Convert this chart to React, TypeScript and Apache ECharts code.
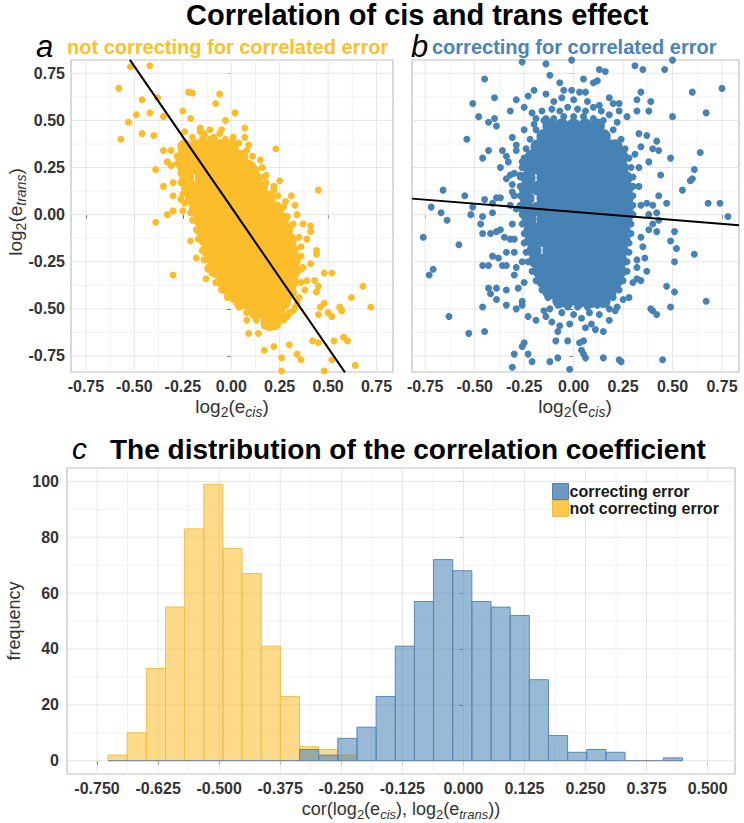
import React, { useEffect, useRef } from 'react';
import * as echarts from 'echarts';

const FONT = '"Liberation Sans", Arial, Helvetica, sans-serif';
const YELLOW = '#FBBD2A';
const BLUE = '#4682B4';
const INK = '#333333';

// ---------- Panel a: not correcting (dense core drawn with larger markers) ----------
const coreA: number[][] = [
  [-0.24, 0.36], [-0.18, 0.36], [-0.12, 0.36], [-0.06, 0.36], [0.0, 0.36],
  [-0.25, 0.305], [-0.21, 0.305], [-0.15, 0.305], [-0.09, 0.305], [-0.03, 0.305], [0.03, 0.305], [0.05, 0.305],
  [-0.24, 0.25], [-0.18, 0.25], [-0.12, 0.25], [-0.06, 0.25], [0.0, 0.25], [0.06, 0.25], [0.09, 0.25],
  [-0.23, 0.195], [-0.15, 0.195], [-0.09, 0.195], [-0.03, 0.195], [0.03, 0.195], [0.09, 0.195], [0.12, 0.195],
  [-0.22, 0.14], [-0.18, 0.14], [-0.12, 0.14], [-0.06, 0.14], [0.0, 0.14], [0.06, 0.14], [0.12, 0.14], [0.15, 0.14],
  [-0.2, 0.085], [-0.15, 0.085], [-0.09, 0.085], [-0.03, 0.085], [0.03, 0.085], [0.09, 0.085], [0.15, 0.085], [0.19, 0.085],
  [-0.18, 0.03], [-0.12, 0.03], [-0.06, 0.03], [0.0, 0.03], [0.06, 0.03], [0.12, 0.03], [0.18, 0.03], [0.23, 0.03],
  [-0.16, -0.025], [-0.09, -0.025], [-0.03, -0.025], [0.03, -0.025], [0.09, -0.025], [0.15, -0.025], [0.21, -0.025], [0.26, -0.025],
  [-0.15, -0.08], [-0.12, -0.08], [-0.06, -0.08], [0.0, -0.08], [0.06, -0.08], [0.12, -0.08], [0.18, -0.08], [0.24, -0.08], [0.28, -0.08],
  [-0.13, -0.135], [-0.09, -0.135], [-0.03, -0.135], [0.03, -0.135], [0.09, -0.135], [0.15, -0.135], [0.21, -0.135], [0.27, -0.135], [0.3, -0.135],
  [-0.12, -0.19], [-0.06, -0.19], [0.0, -0.19], [0.06, -0.19], [0.12, -0.19], [0.18, -0.19], [0.24, -0.19], [0.31, -0.19],
  [-0.09, -0.245], [-0.03, -0.245], [0.03, -0.245], [0.09, -0.245], [0.15, -0.245], [0.21, -0.245], [0.27, -0.245], [0.32, -0.245],
  [-0.07, -0.3], [0.0, -0.3], [0.06, -0.3], [0.12, -0.3], [0.18, -0.3], [0.24, -0.3], [0.3, -0.3], [0.32, -0.3],
  [-0.04, -0.355], [0.03, -0.355], [0.09, -0.355], [0.15, -0.355], [0.21, -0.355], [0.27, -0.355], [0.31, -0.355],
  [0.0, -0.41], [0.06, -0.41], [0.12, -0.41], [0.18, -0.41], [0.24, -0.41], [0.3, -0.41],
  [0.05, -0.465], [0.09, -0.465], [0.15, -0.465], [0.21, -0.465], [0.27, -0.465],
  [0.13, -0.52], [0.18, -0.52], [0.24, -0.52],
  [0.19, -0.575], [0.22, -0.575],
];

const pointsA: number[][] = [
  [-0.52, 0.785], [-0.42, 0.79], [-0.58, 0.67], [-0.46, 0.61], [-0.38, 0.62], [-0.49, 0.53], [-0.53, 0.49],
  [-0.57, 0.4], [-0.46, 0.43], [-0.42, 0.54], [-0.4, 0.42], [-0.35, 0.52], [-0.25, 0.55], [-0.22, 0.65],
  [-0.2, 0.645], [-0.21, 0.51], [-0.06, 0.64], [-0.08, 0.59], [-0.03, 0.5], [0.02, 0.54], [0.07, 0.46],
  [0.07, 0.41], [0.09, 0.37], [0.23, 0.35], [-0.16, 0.46], [-0.14, 0.43], [-0.06, 0.43], [0.02, 0.37],
  [-0.39, 0.24], [-0.35, 0.15], [-0.3, 0.17], [-0.39, -0.04], [-0.33, 0.0], [-0.3, 0.02], [-0.25, 0.02],
  [-0.3, 0.1], [-0.3, -0.32], [-0.18, -0.23], [-0.13, -0.34], [-0.05, -0.4], [-0.02, -0.36], [0.08, -0.56],
  [0.09, -0.63], [0.14, -0.63], [0.17, -0.72], [0.22, -0.7], [0.26, -0.76], [0.26, -0.83], [0.3, -0.69],
  [0.34, -0.74], [0.36, -0.77], [0.42, -0.67], [0.45, -0.68], [0.48, -0.83], [0.52, -0.77], [0.53, -0.67],
  [0.58, -0.65], [0.6, -0.67], [0.64, -0.8], [0.57, -0.51], [0.56, -0.49], [0.62, -0.44], [0.68, -0.38],
  [0.72, -0.49], [0.48, -0.31], [0.52, -0.31], [0.43, -0.35], [0.45, -0.38], [0.44, -0.41], [0.48, -0.47],
  [0.46, -0.49], [0.45, -0.53], [0.5, -0.52], [0.52, -0.54], [0.45, 0.13], [0.37, -0.05], [0.41, -0.06],
  [0.41, -0.09], [0.44, -0.19], [0.44, -0.21], [0.39, -0.13], [0.31, 0.1], [0.33, 0.05], [0.28, 0.07],
  [0.34, 0.0], [0.25, 0.18], [0.22, 0.15], [0.2, 0.11], [0.18, 0.21], [0.16, 0.25], [0.11, 0.26], [0.15, 0.29],
  [-0.35, 0.34], [-0.31, 0.26], [-0.33, 0.28], [-0.28, 0.31], [-0.31, 0.34], [-0.24, 0.44], [-0.15, 0.4],
  [-0.26, 0.08], [-0.21, -0.14], [-0.12, -0.29],
  [-0.02, 0.38], [-0.08, 0.39], [-0.11, 0.4], [-0.16, 0.37], [-0.2, 0.36], [-0.24, 0.34], [-0.26, 0.31],
  [-0.28, 0.27], [-0.26, 0.22], [-0.26, 0.17], [-0.25, 0.11], [-0.24, 0.06], [-0.21, 0.01], [-0.2, -0.03],
  [-0.18, -0.08], [-0.17, -0.13], [-0.15, -0.19], [-0.14, -0.24], [-0.12, -0.28], [-0.1, -0.31], [-0.08, -0.36],
  [-0.04, -0.4], [-0.02, -0.44], [0.01, -0.45], [0.04, -0.49], [0.08, -0.52], [0.13, -0.56], [0.17, -0.59],
  [0.2, -0.6], [0.23, -0.59], [0.27, -0.56], [0.3, -0.52], [0.33, -0.49], [0.35, -0.44], [0.36, -0.36],
  [0.36, -0.29], [0.36, -0.22], [0.36, -0.17], [0.35, -0.12], [0.32, -0.05], [0.29, -0.01], [0.27, 0.04],
  [0.24, 0.1], [0.22, 0.13], [0.18, 0.17], [0.17, 0.2], [0.13, 0.24], [0.11, 0.31], [0.08, 0.34], [0.04, 0.38],
  [0.01, 0.41], [-0.01, 0.36], [0.04, -0.44], [0.06, -0.47], [0.13, -0.51], [0.18, -0.54], [0.23, -0.58],
  [0.29, -0.54], [0.32, -0.51], [0.34, -0.47], [0.38, -0.4], [0.39, -0.35], [0.37, -0.28], [0.41, -0.26],
  [-0.09, -0.29], [-0.2, 0.41], [-0.14, 0.42], [-0.09, 0.41], [-0.03, 0.4], [-0.16, 0.44], [-0.11, 0.45], [-0.05, 0.45],
];

const fitA: number[][] = [[-0.523, 0.821], [0.587, -0.837]];

// ---------- Panel b: correcting ----------
const coreB: number[][] = [
  [-0.12, 0.47], [-0.06, 0.47], [0.0, 0.47], [0.06, 0.47], [0.12, 0.47],
  [-0.15, 0.415], [-0.09, 0.415], [-0.03, 0.415], [0.03, 0.415], [0.09, 0.415], [0.15, 0.415],
  [-0.18, 0.36], [-0.12, 0.36], [-0.06, 0.36], [0.0, 0.36], [0.06, 0.36], [0.12, 0.36], [0.18, 0.36], [0.21, 0.36],
  [-0.21, 0.305], [-0.15, 0.305], [-0.09, 0.305], [-0.03, 0.305], [0.03, 0.305], [0.09, 0.305], [0.15, 0.305], [0.21, 0.305], [0.24, 0.305],
  [-0.22, 0.25], [-0.18, 0.25], [-0.12, 0.25], [-0.06, 0.25], [0.0, 0.25], [0.06, 0.25], [0.12, 0.25], [0.18, 0.25], [0.24, 0.25],
  [-0.23, 0.195], [-0.15, 0.195], [-0.09, 0.195], [-0.03, 0.195], [0.03, 0.195], [0.09, 0.195], [0.15, 0.195], [0.21, 0.195], [0.26, 0.195],
  [-0.24, 0.14], [-0.18, 0.14], [-0.12, 0.14], [-0.06, 0.14], [0.0, 0.14], [0.06, 0.14], [0.12, 0.14], [0.18, 0.14], [0.24, 0.14], [0.265, 0.14],
  [-0.235, 0.085], [-0.15, 0.085], [-0.09, 0.085], [-0.03, 0.085], [0.03, 0.085], [0.09, 0.085], [0.15, 0.085], [0.21, 0.085], [0.265, 0.085],
  [-0.24, 0.03], [-0.18, 0.03], [-0.12, 0.03], [-0.06, 0.03], [0.0, 0.03], [0.06, 0.03], [0.12, 0.03], [0.18, 0.03], [0.24, 0.03], [0.265, 0.03],
  [-0.225, -0.025], [-0.15, -0.025], [-0.09, -0.025], [-0.03, -0.025], [0.03, -0.025], [0.09, -0.025], [0.15, -0.025], [0.21, -0.025], [0.26, -0.025],
  [-0.215, -0.08], [-0.18, -0.08], [-0.12, -0.08], [-0.06, -0.08], [0.0, -0.08], [0.06, -0.08], [0.12, -0.08], [0.18, -0.08], [0.24, -0.08], [0.25, -0.08],
  [-0.21, -0.135], [-0.15, -0.135], [-0.09, -0.135], [-0.03, -0.135], [0.03, -0.135], [0.09, -0.135], [0.15, -0.135], [0.21, -0.135], [0.25, -0.135],
  [-0.2, -0.19], [-0.12, -0.19], [-0.06, -0.19], [0.0, -0.19], [0.06, -0.19], [0.12, -0.19], [0.18, -0.19], [0.24, -0.19],
  [-0.19, -0.245], [-0.15, -0.245], [-0.09, -0.245], [-0.03, -0.245], [0.03, -0.245], [0.09, -0.245], [0.15, -0.245], [0.21, -0.245], [0.235, -0.245],
  [-0.17, -0.3], [-0.12, -0.3], [-0.06, -0.3], [0.0, -0.3], [0.06, -0.3], [0.12, -0.3], [0.18, -0.3], [0.23, -0.3],
  [-0.15, -0.355], [-0.09, -0.355], [-0.03, -0.355], [0.03, -0.355], [0.09, -0.355], [0.15, -0.355], [0.21, -0.355],
  [-0.12, -0.41], [-0.06, -0.41], [0.0, -0.41], [0.06, -0.41], [0.12, -0.41], [0.18, -0.41],
  [-0.07, -0.455], [-0.03, -0.455], [0.03, -0.455], [0.09, -0.455], [0.15, -0.455],
];

const pointsB: number[][] = [
  [-0.26, 0.81], [-0.14, 0.8], [-0.01, 0.82], [0.13, 0.77], [0.16, 0.76], [0.31, 0.79], [0.35, 0.77],
  [0.46, 0.77], [0.5, 0.82], [-0.12, 0.74], [0.05, 0.72], [0.1, 0.7], [0.12, 0.71], [-0.07, 0.7],
  [-0.2, 0.66], [-0.14, 0.64], [-0.05, 0.66], [-0.01, 0.66], [0.03, 0.65], [0.06, 0.65], [-0.45, 0.72],
  [-0.4, 0.62], [-0.51, 0.59], [-0.48, 0.52], [-0.43, 0.49], [-0.4, 0.51], [-0.39, 0.47], [-0.29, 0.61],
  [-0.32, 0.55], [-0.25, 0.57], [-0.23, 0.63], [-0.21, 0.54], [-0.19, 0.51], [-0.14, 0.51], [-0.1, 0.6],
  [-0.06, 0.62], [0.0, 0.61], [0.07, 0.6], [0.13, 0.58], [0.18, 0.62], [0.2, 0.59], [0.23, 0.59],
  [0.23, 0.55], [0.27, 0.52], [0.32, 0.61], [0.32, 0.55], [0.39, 0.6], [0.38, 0.55], [0.34, 0.65],
  [0.6, 0.65], [0.75, 0.67], [0.67, 0.54], [0.5, 0.52], [0.33, 0.43], [0.37, 0.42], [0.42, 0.39],
  [0.4, 0.35], [0.43, 0.34], [0.34, 0.36], [0.31, 0.32], [0.38, 0.28], [0.44, 0.21], [0.49, 0.3],
  [0.64, 0.33], [0.61, 0.24], [0.6, 0.19], [0.59, 0.18], [0.55, 0.13], [0.47, 0.06], [0.43, 0.1],
  [0.4, 0.05], [0.42, 0.01], [0.37, 0.06], [0.38, 0.0], [0.68, 0.06], [0.74, 0.06], [0.78, -0.01],
  [0.43, -0.03], [0.4, -0.05], [0.38, -0.08], [0.42, -0.09], [0.51, -0.09], [0.49, -0.14], [0.52, -0.18],
  [0.51, -0.25], [0.61, -0.21], [0.35, -0.17], [0.32, -0.24], [0.36, -0.23], [0.37, -0.3], [0.32, -0.34],
  [0.34, -0.35], [0.47, -0.38], [0.51, -0.41], [0.49, -0.49], [0.39, -0.5], [0.4, -0.51], [0.42, -0.53],
  [0.25, -0.45], [0.67, -0.46], [0.45, -0.77], [0.3, -0.36], [0.28, -0.44], [0.22, -0.49], [0.21, -0.51],
  [0.18, -0.56], [0.15, -0.62], [0.11, -0.61], [0.09, -0.58], [0.05, -0.67], [0.03, -0.68], [-0.03, -0.67],
  [-0.09, -0.67], [-0.08, -0.62], [-0.07, -0.59], [-0.11, -0.57], [-0.14, -0.54], [-0.15, -0.51],
  [-0.19, -0.56], [-0.23, -0.54], [-0.25, -0.68], [-0.26, -0.7], [-0.3, -0.74], [-0.23, -0.74],
  [-0.21, -0.78], [-0.31, -0.81], [-0.12, -0.78], [-0.08, -0.76], [0.05, -0.74], [0.04, -0.72],
  [0.06, -0.76], [0.15, -0.76], [0.23, -0.77], [0.24, -0.78], [-0.02, -0.82], [-0.34, -0.48],
  [-0.39, -0.45], [-0.42, -0.42], [-0.46, -0.49], [-0.63, -0.54], [-0.53, -0.63], [-0.45, -0.62],
  [-0.29, -0.5], [-0.26, -0.48], [-0.26, -0.46], [-0.25, -0.36], [-0.28, -0.39], [-0.34, -0.4],
  [-0.39, -0.39], [-0.43, -0.39], [-0.46, -0.27], [-0.43, -0.27], [-0.41, -0.22], [-0.38, -0.23],
  [-0.36, -0.27], [-0.34, -0.27], [-0.3, -0.32], [-0.26, -0.25], [-0.71, -0.29], [-0.73, -0.32],
  [-0.76, -0.12], [-0.58, -0.16], [-0.47, -0.05], [-0.46, -0.01], [-0.46, -0.1], [-0.42, -0.1],
  [-0.39, -0.09], [-0.35, -0.12], [-0.32, -0.13], [-0.3, -0.13], [-0.34, -0.2], [-0.37, -0.08],
  [-0.66, 0.13], [-0.72, 0.04], [-0.67, 0.01], [-0.64, -0.03], [-0.55, 0.1], [-0.51, 0.04], [-0.52, 0.0],
  [-0.45, 0.08], [-0.41, 0.01], [-0.41, 0.06], [-0.39, 0.09], [-0.37, 0.09], [-0.32, 0.05], [-0.3, 0.1],
  [-0.29, 0.03], [-0.31, 0.16], [-0.34, 0.19], [-0.32, 0.21], [-0.27, 0.21], [-0.37, 0.25], [-0.33, 0.28],
  [-0.26, 0.28], [-0.29, 0.34], [-0.31, 0.41], [-0.29, 0.37], [-0.36, 0.34], [-0.34, 0.31], [-0.46, 0.3],
  [-0.43, 0.34], [-0.54, 0.4], [-0.25, 0.45],
  [-0.16, 0.55], [-0.11, 0.56], [-0.07, 0.55], [-0.03, 0.57], [0.02, 0.56], [0.06, 0.55], [0.1, 0.57],
  [0.14, 0.55], [0.18, 0.53], [-0.2, 0.48], [0.22, 0.49], [-0.12, -0.5], [-0.06, -0.52], [0.0, -0.53],
  [0.04, -0.55], [0.08, -0.52], [0.13, -0.53], [0.18, -0.5], [-0.02, -0.58], [0.06, -0.6],
  [-0.3, 0.22], [-0.31, -0.05], [-0.3, -0.2], [-0.29, -0.28], [-0.31, 0.12], [0.33, 0.15], [0.34, -0.12],
  [0.33, 0.25], [0.32, -0.28], [0.34, 0.05],
  [-0.15, 0.5], [-0.1, 0.51], [-0.05, 0.52], [0.0, 0.52], [0.05, 0.52], [0.1, 0.51], [0.15, 0.5],
  [-0.19, 0.45], [0.2, 0.45], [-0.22, 0.4], [0.24, 0.4], [-0.24, 0.35], [0.26, 0.35], [-0.25, 0.3],
  [0.28, 0.3], [-0.26, 0.25], [0.29, 0.25], [-0.27, 0.2], [0.3, 0.2], [-0.27, 0.15], [0.3, 0.15],
  [-0.27, 0.1], [0.3, 0.1], [-0.27, 0.05], [0.3, 0.05], [-0.26, 0.0], [0.3, 0.0], [-0.26, -0.05],
  [0.29, -0.05], [-0.25, -0.1], [0.29, -0.1], [-0.25, -0.15], [0.28, -0.15], [-0.24, -0.2], [0.28, -0.2],
  [-0.23, -0.25], [0.27, -0.25], [-0.21, -0.3], [0.27, -0.3], [-0.19, -0.35], [0.25, -0.35], [-0.16, -0.4],
  [0.23, -0.4], [-0.13, -0.44], [0.2, -0.44], [-0.08, -0.48], [-0.03, -0.49], [0.02, -0.49], [0.07, -0.49],
  [0.12, -0.48], [0.16, -0.47],
];

const fitB: number[][] = [[-0.817, 0.085], [0.836, -0.056]];

// ---------- Panel c: histogram of correlation coefficients ----------
const binEdges = [
  -0.7275, -0.6883, -0.6491, -0.6099, -0.5707, -0.5315, -0.4923, -0.4531, -0.4139, -0.3747,
  -0.3355, -0.2963, -0.2571, -0.2179, -0.1787, -0.1395, -0.1003, -0.0611, -0.0219, 0.0173,
  0.0565, 0.0957, 0.1349, 0.1741, 0.2133, 0.2525, 0.2917, 0.3309, 0.3701, 0.4093, 0.4485,
];
const countsNotCorrecting = [2, 10, 33, 55, 83, 99, 76, 67, 41, 23, 5, 4, 2, 0, 0, 0, 0, 0, 0, 0, 0, 0, 0, 0, 0, 0, 0, 0, 0, 0];
const countsCorrecting = [0, 0, 0, 0, 0, 0, 0, 0, 0, 0, 4, 2, 8, 12, 23, 41, 57, 72, 68, 57, 55, 52, 29, 9, 3, 4, 3, 0, 0, 1];

// ---------- ticks ----------
const scatterTickValues = [-0.75, -0.5, -0.25, 0, 0.25, 0.5, 0.75];
const scatterTickLabels = ['-0.75', '-0.50', '-0.25', '0.00', '0.25', '0.50', '0.75'];
const scatterMinorValues = [-0.625, -0.375, -0.125, 0.125, 0.375, 0.625];
const histXTickValues = [-0.75, -0.625, -0.5, -0.375, -0.25, -0.125, 0, 0.125, 0.25, 0.375, 0.5];
const histXTickLabels = ['-0.750', '-0.625', '-0.500', '-0.375', '-0.250', '-0.125', '0.000', '0.125', '0.250', '0.375', '0.500'];
const histXMinorValues = [-0.6875, -0.5625, -0.4375, -0.3125, -0.1875, -0.0625, 0.0625, 0.1875, 0.3125, 0.4375];
const histYTickValues = [0, 20, 40, 60, 80, 100];
const histYTickLabels = ['0', '20', '40', '60', '80', '100'];
const histYMinorValues = [10, 30, 50, 70, 90];

function labeller(values: number[], labels: string[]) {
  return (v: number) => {
    const i = values.findIndex((t) => Math.abs(t - v) < 1e-9);
    return i >= 0 ? labels[i] : '';
  };
}

function valueAxis(gridIndex: number, min: number, max: number, ticks: number[], labels: string[], showLabel: boolean, margin: number) {
  return {
    type: 'value',
    gridIndex,
    min,
    max,
    axisLine: { show: false },
    splitLine: { show: false },
    axisTick: { show: true, length: 4, lineStyle: { color: INK, width: 1 }, customValues: ticks },
    axisLabel: {
      show: showLabel,
      customValues: ticks,
      formatter: labeller(ticks, labels),
      margin,
      fontSize: 16,
      fontWeight: 'bold',
      color: INK,
      fontFamily: FONT,
    },
  };
}

function gridLines(idx: number, vMajor: number[], vMinor: number[], hMajor: number[], hMinor: number[]) {
  const data = [
    ...vMinor.map((v) => [v, 0, 0]),
    ...hMinor.map((v) => [v, 1, 0]),
    ...vMajor.map((v) => [v, 0, 1]),
    ...hMajor.map((v) => [v, 1, 1]),
  ];
  return {
    type: 'custom',
    xAxisIndex: idx,
    yAxisIndex: idx,
    silent: true,
    z: 1,
    clip: false,
    data,
    renderItem: (params: any, api: any) => {
      const cs = params.coordSys;
      const v = api.value(0);
      const dir = api.value(1);
      const major = api.value(2);
      let shape;
      if (dir === 0) {
        const x = api.coord([v, 0])[0];
        shape = { x1: x, y1: cs.y, x2: x, y2: cs.y + cs.height };
      } else {
        const y = api.coord([0, v])[1];
        shape = { x1: cs.x, y1: y, x2: cs.x + cs.width, y2: y };
      }
      return { type: 'line', shape, style: { stroke: major ? '#E6E6E6' : '#F2F2F2', lineWidth: 1 } };
    },
  };
}

function histSeries(name: string, counts: number[], fill: string, stroke: string, z: number) {
  return {
    type: 'custom',
    name,
    xAxisIndex: 2,
    yAxisIndex: 2,
    z,
    itemStyle: { color: fill },
    encode: { x: [0, 1], y: 2 },
    data: counts.map((c, i) => [binEdges[i], binEdges[i + 1], c]),
    renderItem: (params: any, api: any) => {
      const c = api.value(2);
      const p0 = api.coord([api.value(0), c]);
      const p1 = api.coord([api.value(1), 0]);
      if (c === 0) {
        return { type: 'line', shape: { x1: p0[0], y1: p1[1], x2: p1[0], y2: p1[1] }, style: { stroke, lineWidth: 1 } };
      }
      return {
        type: 'rect',
        shape: { x: p0[0], y: p0[1], width: p1[0] - p0[0], height: p1[1] - p0[1] },
        style: { fill, stroke, lineWidth: 1 },
      };
    },
  };
}

function subRich(size: number) {
  return {
    s: { fontSize: size, lineHeight: size, verticalAlign: 'bottom', fontFamily: FONT, fill: INK },
    i: { fontSize: size, lineHeight: size, verticalAlign: 'bottom', fontStyle: 'italic', fontFamily: FONT, fill: INK },
  };
}

function label(x: number, y: number, text: string, opts: any = {}) {
  const { rotation, align = 'left', ...style } = opts;
  return {
    type: 'text',
    x,
    y,
    rotation: rotation || 0,
    silent: true,
    style: {
      text,
      fontFamily: FONT,
      align,
      textAlign: align,
      verticalAlign: 'middle',
      textVerticalAlign: 'middle',
      ...style,
    },
  };
}

function axisName(x: number, y: number, text: string, rotation = 0, size = 18) {
  return label(x, y, text, {
    align: 'center',
    rotation,
    fontSize: size,
    lineHeight: size + 6,
    fill: INK,
    rich: subRich(size - 5),
  });
}

export default function App() {
  const ref = useRef<HTMLDivElement>(null);

  useEffect(() => {
    if (!ref.current) return;
    const chart = echarts.init(ref.current, undefined, { renderer: 'svg' });

    const gridBase = { show: true, borderColor: '#BFBFBF', borderWidth: 1.2, backgroundColor: '#FFFFFF', containLabel: false };

    const option: any = {
      animation: false,
      backgroundColor: '#FFFFFF',
      textStyle: { fontFamily: FONT },
      grid: [
        { ...gridBase, left: 71, top: 60, width: 322, height: 312 },
        { ...gridBase, left: 412, top: 60, width: 327, height: 312 },
        { ...gridBase, left: 67, top: 468, width: 668, height: 306 },
      ],
      xAxis: [
        valueAxis(0, -0.827, 0.835, scatterTickValues, scatterTickLabels, true, 6),
        valueAxis(1, -0.817, 0.836, scatterTickValues, scatterTickLabels, true, 6),
        valueAxis(2, -0.8115, 0.556, histXTickValues, histXTickLabels, true, 6),
      ],
      yAxis: [
        valueAxis(0, -0.835, 0.8206, scatterTickValues, scatterTickLabels, true, 6),
        valueAxis(1, -0.835, 0.8206, scatterTickValues, scatterTickLabels, false, 6),
        valueAxis(2, -4.77, 104.8, histYTickValues, histYTickLabels, true, 8),
      ],
      legend: {
        left: 552,
        top: 483,
        orient: 'vertical',
        itemWidth: 16,
        itemHeight: 16,
        itemGap: 0,
        icon: 'rect',
        selectedMode: false,
        backgroundColor: '#FFFFFF',
        padding: [0, 3, 0, 0],
        textStyle: { fontSize: 16, fontWeight: 'bold', color: '#1A1A1A', fontFamily: FONT, padding: [0, 0, 0, -4] },
        data: [
          { name: 'correcting error', itemStyle: { color: '#6D98C4', borderColor: '#4F7FAE', borderWidth: 1 } },
          { name: 'not correcting error', itemStyle: { color: '#FCC94F', borderColor: '#EDBB45', borderWidth: 1 } },
        ],
      },
      series: [
        gridLines(0, scatterTickValues, scatterMinorValues, scatterTickValues, scatterMinorValues),
        gridLines(1, scatterTickValues, scatterMinorValues, scatterTickValues, scatterMinorValues),
        gridLines(2, histXTickValues, histXMinorValues, histYTickValues, histYMinorValues),
        { type: 'scatter', xAxisIndex: 0, yAxisIndex: 0, data: coreA, symbolSize: 15, itemStyle: { color: YELLOW, opacity: 1 }, z: 2, silent: true },
        { type: 'scatter', xAxisIndex: 0, yAxisIndex: 0, data: pointsA, symbolSize: 7, itemStyle: { color: YELLOW, opacity: 1 }, z: 2, silent: true },
        { type: 'line', xAxisIndex: 0, yAxisIndex: 0, data: fitA, symbol: 'none', lineStyle: { color: '#000000', width: 2 }, z: 3, silent: true },
        { type: 'scatter', xAxisIndex: 1, yAxisIndex: 1, data: coreB, symbolSize: 15, itemStyle: { color: BLUE, opacity: 1 }, z: 2, silent: true },
        { type: 'scatter', xAxisIndex: 1, yAxisIndex: 1, data: pointsB, symbolSize: 7, itemStyle: { color: BLUE, opacity: 1 }, z: 2, silent: true },
        { type: 'line', xAxisIndex: 1, yAxisIndex: 1, data: fitB, symbol: 'none', lineStyle: { color: '#000000', width: 2 }, z: 3, silent: true },
        histSeries('not correcting error', countsNotCorrecting, 'rgba(251,188,40,0.55)', '#F3C046', 2),
        histSeries('correcting error', countsCorrecting, 'rgba(70,130,180,0.55)', '#5A88B5', 3),
      ],
      graphic: [
        label(186, 15, 'Correlation of cis and trans effect', { fontSize: 29, fontWeight: 'bold', fill: '#000000' }),
        label(36, 46.5, 'a', { fontSize: 31, fontStyle: 'italic', fill: '#000000' }),
        label(67, 46.5, 'not correcting for correlated error', { fontSize: 20, fontWeight: 'bold', fill: '#FCBF2E' }),
        label(411, 46.5, 'b', { fontSize: 31, fontStyle: 'italic', fill: '#000000' }),
        label(432, 46.5, 'correcting for correlated error', { fontSize: 20, fontWeight: 'bold', fill: '#4A84B8' }),
        label(72, 448, 'c', { fontSize: 30, fontStyle: 'italic', fill: '#000000' }),
        label(110, 449, 'The distribution of the correlation coefficient', { fontSize: 28, fontWeight: 'bold', fill: '#000000' }),
        axisName(15, 212, 'log{s|2}(e{i|trans})', Math.PI / 2, 19),
        axisName(232, 406, 'log{s|2}(e{i|cis})', 0, 19),
        axisName(575, 406, 'log{s|2}(e{i|cis})', 0, 19),
        label(14, 621, 'frequency', { align: 'center', rotation: Math.PI / 2, fontSize: 18, fill: INK }),
        axisName(401, 809, 'cor(log{s|2}(e{i|cis}), log{s|2}(e{i|trans}))', 0, 18),
      ],
    };

    chart.setOption(option);
    return () => chart.dispose();
  }, []);

  return <div ref={ref} style={{ position: 'fixed', left: 0, top: 0, width: 744, height: 823, background: '#fff' }} />;
}
